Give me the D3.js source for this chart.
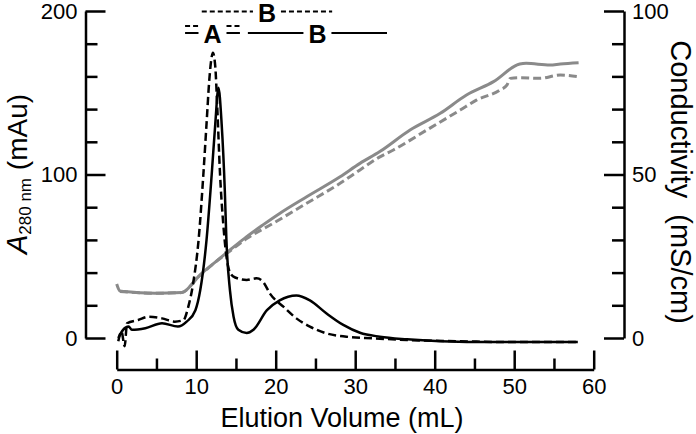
<!DOCTYPE html>
<html>
<head>
<meta charset="utf-8">
<script src="https://cdn.jsdelivr.net/npm/d3@7"></script>
<style>
  body { margin: 0; background: #fff; }
  svg { font-family: "Liberation Sans", Arial, sans-serif; }
  .axis path, .axis line { stroke: #000; stroke-width: 2.5px; }
  .axis text { font-size: 22px; font-family: "Liberation Sans", Arial, sans-serif; fill: #000; }
</style>
</head>
<body>
<script>
// A280 traces (mAu) vs elution volume (mL)
var solidVol = [0.2, 0.8, 1.5, 1.9, 3.6, 5.7, 7.7, 8.8, 9.9, 10.5, 11.3, 11.95, 12.4, 12.8, 13.2, 13.6, 13.8, 14.25, 14.7, 15.3, 16.35, 17.2, 18.9, 20.5, 22.6, 24.3, 26.4, 28.5, 30.6, 33.1, 36.5, 40.7, 45, 50, 58];
var solidA280 = [0, 5, 7, 5, 6, 9, 7, 10, 17, 29, 60, 100, 131, 153, 131, 90, 60, 29, 13, 5, 3, 5, 17, 23, 26, 23, 15, 8, 3.2, 0.8, -0.8, -2, -2.5, -2.5, -2.5];

var dashVol = [0.2, 0.6, 1.0, 1.3, 2.7, 4.0, 5.7, 7.3, 8.4, 9.0, 9.6, 10.3, 10.9, 11.3, 11.65, 11.95, 12.1, 12.4, 12.65, 13.0, 13.4, 13.8, 14.25, 14.9, 16.35, 17.6, 18.4, 19.3, 21, 22.6, 24.3, 26.4, 28.9, 32.3, 36.5, 43.2, 50, 58];
var dashA280 = [-2, 4, -5, 9, 11, 13, 12, 10, 11, 19, 33, 60, 100, 131, 158, 172, 174.5, 166, 141, 100, 70, 50, 40, 37, 35.5, 36.5, 34.4, 27, 19, 12, 7, 2.8, 0.8, -0.2, -1.2, -2, -2.5, -2.5];

// conductivity traces (mS/cm)
var condSolidVol = [0, 0.4, 1, 4.8, 8.2, 9.4, 10.1, 12.2, 14.25, 16.35, 18.4, 20.5, 23.9, 28.1, 30.6, 33.1, 36.9, 40.7, 44, 47.4, 50.7, 51.5, 54.5, 55.8, 58.1];
var condSolid = [16.5, 14.4, 14.2, 13.7, 13.9, 16.2, 18.3, 22.8, 26.9, 31, 34.6, 38.1, 43.2, 49.3, 53.4, 57, 63.6, 68.7, 74.3, 78.4, 83.8, 84, 83.5, 83.8, 84.2];

var condDashVol = [0.4, 4.8, 8.2, 10.1, 12.2, 14.25, 16.35, 19.7, 23.9, 28.1, 30.6, 33.1, 34.8, 39, 43.2, 45.3, 48.2, 49.1, 49.5, 50.7, 53.2, 55.8, 58.1];
var condDash = [14.2, 13.7, 13.9, 18.3, 22.8, 26.6, 30.4, 35.1, 41.2, 47.3, 51.4, 55.4, 57.5, 63.6, 69.7, 72.8, 75.8, 77.4, 79.4, 79.6, 79.4, 80.4, 79.9];

// pooled fractions (mL)
var dashedFractions = [
  { label: "", from: 8.6, to: 15.5 },
  { label: "B", from: 10.7, to: 27.1 }
];
var solidFractions = [
  { label: "A", from: 8.6, to: 15.5 },
  { label: "B", from: 16.5, to: 34 }
];

var xTicks = [0, 10, 20, 30, 40, 50, 60];
var xMinor = [5, 15, 25, 35, 45, 55];
var yTicks = [0, 100, 200];
var yMinor = [20, 40, 60, 80, 120, 140, 160, 180];
var cTicks = [0, 50, 100];
var cMinor = [10, 20, 30, 40, 60, 70, 80, 90];

var width = 696, height = 434;

var svg = d3.select("body").append("svg")
  .attr("width", width)
  .attr("height", height);

var x = d3.scaleLinear().domain([0, 60]).range([116.7, 593.7]);
var yA = d3.scaleLinear().domain([0, 200]).range([338, 11]);
var yC = d3.scaleLinear().domain([0, 100]).range([338, 11]);

// axes
svg.append("g").attr("class", "axis")
  .attr("transform", "translate(85.5,0)")
  .call(d3.axisLeft(yA).tickValues(yTicks).tickSizeInner(-20).tickSizeOuter(0).tickPadding(8));
svg.append("g").attr("class", "axis")
  .attr("transform", "translate(85.5,0)")
  .call(d3.axisLeft(yA).tickValues(yMinor).tickSize(-12).tickFormat(""))
  .select(".domain").remove();

svg.append("g").attr("class", "axis")
  .attr("transform", "translate(0,369.5)")
  .call(d3.axisBottom(x).tickValues(xTicks).tickSizeInner(-19).tickSizeOuter(0).tickPadding(9));
svg.append("g").attr("class", "axis")
  .attr("transform", "translate(0,369.5)")
  .call(d3.axisBottom(x).tickValues(xMinor).tickSize(-11).tickFormat(""))
  .select(".domain").remove();

svg.append("g").attr("class", "axis")
  .attr("transform", "translate(624,0)")
  .call(d3.axisRight(yC).tickValues(cTicks).tickSizeInner(-20).tickSizeOuter(0).tickPadding(8));
svg.append("g").attr("class", "axis")
  .attr("transform", "translate(624,0)")
  .call(d3.axisRight(yC).tickValues(cMinor).tickSize(-12).tickFormat(""))
  .select(".domain").remove();

// axis titles
svg.append("text")
  .attr("x", 342).attr("y", 427)
  .attr("text-anchor", "middle")
  .style("font-size", "27px")
  .text("Elution Volume (mL)");

var lt = svg.append("text")
  .attr("transform", "translate(27,174) rotate(-90)")
  .attr("text-anchor", "middle")
  .style("font-size", "28px");
lt.append("tspan").style("font-style", "italic").style("font-size", "29px").text("A");
lt.append("tspan").style("font-size", "17px").attr("dy", 4).text("280 nm");
lt.append("tspan").attr("dy", -4).text(" (mAu)");

svg.append("text")
  .attr("transform", "translate(671,182) rotate(90)")
  .attr("text-anchor", "middle")
  .style("font-size", "29px")
  .text("Conductivity\u00a0\u00a0(mS/cm)");

// traces
var lineA = d3.line()
  .x(function(d) { return x(d[0]); })
  .y(function(d) { return yA(d[1]); })
  .curve(d3.curveMonotoneX);
var lineC = d3.line()
  .x(function(d) { return x(d[0]); })
  .y(function(d) { return yC(d[1]); })
  .curve(d3.curveMonotoneX);

svg.append("path")
  .datum(d3.zip(condDashVol, condDash))
  .attr("d", lineC)
  .attr("fill", "none").attr("stroke", "#8a8a8a").attr("stroke-width", 3)
  .attr("stroke-dasharray", "8,4");
svg.append("path")
  .datum(d3.zip(condSolidVol, condSolid))
  .attr("d", lineC)
  .attr("fill", "none").attr("stroke", "#8a8a8a").attr("stroke-width", 3);

svg.append("path")
  .datum(d3.zip(dashVol, dashA280))
  .attr("d", lineA)
  .attr("fill", "none").attr("stroke", "#000").attr("stroke-width", 2.5)
  .attr("stroke-dasharray", "8,4");
svg.append("path")
  .datum(d3.zip(solidVol, solidA280))
  .attr("d", lineA)
  .attr("fill", "none").attr("stroke", "#000").attr("stroke-width", 2.5);

// fraction brackets
function drawFractions(list, rows, dash) {
  list.forEach(function(f, i) {
    var x0 = x(f.from), x1 = x(f.to), mid = (x0 + x1) / 2, gap = 14;
    var yRow = rows[i];
    [[x0, mid - gap], [mid + gap, x1]].forEach(function(seg) {
      svg.append("line")
        .attr("x1", seg[0]).attr("x2", seg[1])
        .attr("y1", yRow).attr("y2", yRow)
        .attr("stroke", "#000").attr("stroke-width", 2)
        .attr("stroke-dasharray", dash);
    });
    if (f.label) {
      svg.append("text")
        .attr("x", mid).attr("y", yRow + 10)
        .attr("text-anchor", "middle")
        .style("font-size", "25px").style("font-weight", "bold")
        .text(f.label);
    }
  });
}
drawFractions(dashedFractions, [26, 11.5], "5,3");
drawFractions(solidFractions, [33, 33], null);
</script>
</body>
</html>
